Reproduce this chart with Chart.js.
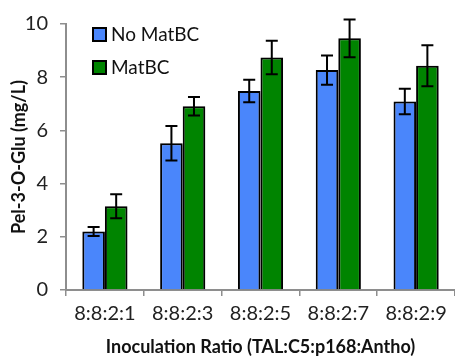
<!DOCTYPE html>
<html>
<head>
<meta charset="utf-8">
<script src="https://cdn.jsdelivr.net/npm/chart.js@4.4.1/dist/chart.umd.min.js"></script>
<style>
  html, body { margin: 0; padding: 0; background: #fff; }
  #wrap { width: 455px; height: 356px; }
</style>
</head>
<body>
<div id="wrap"><canvas id="chart"></canvas></div>
<script>
const categories = ['8:8:2:1', '8:8:2:3', '8:8:2:5', '8:8:2:7', '8:8:2:9'];
const noMatBC = [2.2, 5.52, 7.48, 8.27, 7.09];
const noMatBCErr = [0.17, 0.65, 0.42, 0.55, 0.48];
const matBC = [3.15, 6.91, 8.74, 9.46, 8.43];
const matBCErr = [0.45, 0.35, 0.63, 0.71, 0.77];
const yTicks = [0, 2, 4, 6, 8, 10];

const FONT = 'Lato, "Open Sans", sans-serif';
const AXIS_GRAY = '#8e8e8e';

// error bars from the y scale
const errorBars = {
  id: 'errorBars',
  afterDatasetsDraw(chart) {
    const ctx = chart.ctx;
    const y = chart.scales.y;
    ctx.save();
    ctx.strokeStyle = '#000';
    ctx.lineWidth = 2;
    chart.data.datasets.forEach((ds, i) => {
      const meta = chart.getDatasetMeta(i);
      meta.data.forEach((bar, j) => {
        const v = ds.data[j], e = ds.errors[j];
        const top = y.getPixelForValue(v + e);
        const bot = y.getPixelForValue(v - e);
        const cap = 6;
        ctx.beginPath();
        ctx.moveTo(bar.x, top); ctx.lineTo(bar.x, bot);
        ctx.moveTo(bar.x - cap, top); ctx.lineTo(bar.x + cap, top);
        ctx.moveTo(bar.x - cap, bot); ctx.lineTo(bar.x + cap, bot);
        ctx.stroke();
      });
    });
    ctx.restore();
  }
};

// soft shadow behind bars
const barShadow = {
  id: 'barShadow',
  beforeDatasetsDraw(chart) {
    const ctx = chart.ctx;
    ctx.save();
    ctx.shadowColor = 'rgba(0,0,0,0.28)';
    ctx.shadowBlur = 4;
    ctx.shadowOffsetX = 2;
    ctx.shadowOffsetY = 1;
  },
  afterDatasetsDraw(chart) {
    chart.ctx.restore();
  }
};

// legend inside the plot, stacked
const insideLegend = {
  id: 'insideLegend',
  afterDraw(chart) {
    const ctx = chart.ctx;
    const area = chart.chartArea;
    ctx.save();
    ctx.font = '19px ' + FONT;
    ctx.textBaseline = 'middle';
    chart.data.datasets.forEach((ds, i) => {
      const bx = area.left + 27;
      const by = area.top + 4 + i * 33;
      ctx.fillStyle = ds.backgroundColor;
      ctx.fillRect(bx, by, 13, 13);
      ctx.strokeStyle = '#000';
      ctx.lineWidth = 2;
      ctx.strokeRect(bx, by, 13, 13);
      ctx.fillStyle = '#111';
      ctx.fillText(ds.label, bx + 18, by + 7);
    });
    ctx.restore();
  }
};

new Chart(document.getElementById('chart'), {
  type: 'bar',
  data: {
    labels: categories,
    datasets: [
      { label: 'No MatBC', data: noMatBC, errors: noMatBCErr, backgroundColor: '#4a86fb', borderColor: '#000', borderWidth: 2 },
      { label: 'MatBC', data: matBC, errors: matBCErr, backgroundColor: '#008400', borderColor: '#000', borderWidth: 2 }
    ]
  },
  options: {
    responsive: true,
    maintainAspectRatio: false,
    animation: false,
    layout: { padding: { top: 20, right: 0, left: 0, bottom: 0 } },
    datasets: { bar: { barPercentage: 1, categoryPercentage: 0.58 } },
    plugins: { legend: { display: false }, tooltip: { enabled: false } },
    scales: {
      x: {
        afterFit: s => { s.height = 66; },
        grid: { drawOnChartArea: false, color: AXIS_GRAY, tickLength: 6, lineWidth: 1.5 },
        border: { color: AXIS_GRAY, width: 2 },
        ticks: { color: '#222', font: { family: FONT, size: 20 }, padding: 6 },
        title: { display: true, text: 'Inoculation Ratio (TAL:C5:p168:Antho)', color: '#111',
                 font: { family: FONT, size: 18, weight: 'bold', lineHeight: 1 }, padding: 0 }
      },
      y: {
        min: 0, max: 10,
        afterFit: s => { s.width = 66; },
        afterBuildTicks: s => { s.ticks = yTicks.map(v => ({ value: v })); },
        grid: { drawOnChartArea: false, color: AXIS_GRAY, tickLength: 6, lineWidth: 1.5 },
        border: { color: AXIS_GRAY, width: 2 },
        ticks: { color: '#222', font: { family: FONT, size: 20 }, padding: 12 },
        title: { display: true, text: 'Pel-3-O-Glu (mg/L)', color: '#111',
                 font: { family: FONT, size: 18, weight: 'bold', lineHeight: 1.2 }, padding: { top: 8, bottom: 0 } }
      }
    }
  },
  plugins: [barShadow, errorBars, insideLegend]
});
</script>
</body>
</html>
